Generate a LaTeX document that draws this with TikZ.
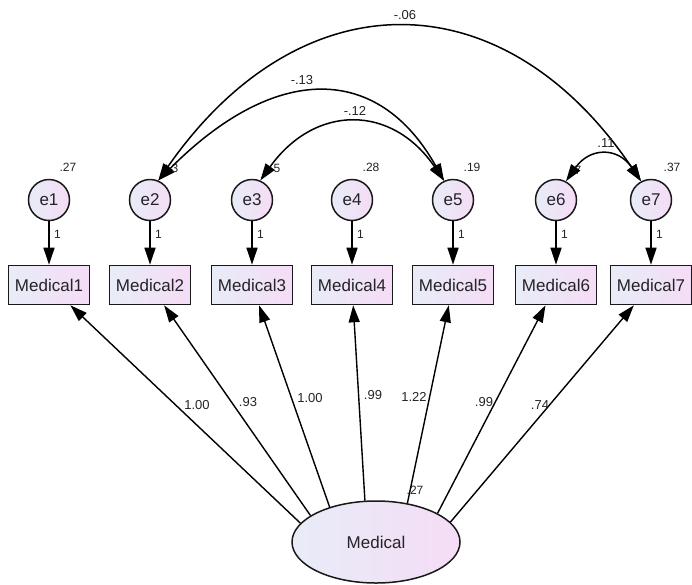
\documentclass[tikz,border=0pt]{standalone}
\usepackage{fontspec}
\setmainfont{Liberation Sans}
\usetikzlibrary{arrows.meta,shapes.geometric}
\definecolor{boxL}{RGB}{232,236,247}
\definecolor{boxR}{RGB}{245,220,246}
\definecolor{txt}{RGB}{35,35,40}
\begin{document}
\begin{tikzpicture}[x=1pt,y=-1pt,
  obs/.style={draw=black!90,line width=1.6pt,left color=boxL,right color=boxR,minimum width=81pt,minimum height=39pt,inner sep=0pt,font=\fontsize{17}{18}\selectfont,text=txt},
  err/.style={circle,draw=black!90,line width=1.5pt,left color=boxL,right color=boxR,minimum size=41pt,inner sep=0pt,font=\fontsize{17}{18}\selectfont,text=txt},
  latent/.style={ellipse,draw=black!90,line width=1.5pt,left color=boxL,right color=boxR,minimum width=168pt,minimum height=82pt,inner sep=0pt,font=\fontsize{17}{18}\selectfont,text=txt},
  arr/.style={line width=1.4pt,-{Triangle[length=17pt,width=11pt]}},
  dbl/.style={line width=1.5pt,{Triangle[length=17pt,width=11pt]}-{Triangle[length=17pt,width=11pt]}},
  lab/.style={font=\fontsize{13}{14}\selectfont,text=txt,inner sep=0pt},
  vlab/.style={font=\fontsize{12}{13}\selectfont,text=txt,inner sep=0pt},
]
\useasboundingbox (0,0) rectangle (692,584);
% error terms and indicators
\foreach \i/\x in {1/49,2/150,3/252,4/352,5/453,6/556,7/651}{
  \node[err] (e\i) at (\x,200) {e\i};
  \node[obs] (m\i) at (\x,285) {Medical\i};
  \draw[arr] (e\i) -- (m\i) node[vlab,pos=0.3,right=4.5pt] {1};
}
% latent
\node[latent] (lat) at (376,542) {Medical};
% variance labels
\node[vlab] (v1) at (68,167) {.27};
\node[vlab] (v4) at (371,167) {.28};
\node[vlab] (v5) at (472,167) {.19};
\node[vlab] (v7) at (672,167) {.37};
\node[vlab] (v2) at (175,168) {3};
\node[vlab] (v3) at (277,168) {5};
\node[vlab] (v6) at (578,170) {7};
\node[vlab] (vl) at (415,490) {.27};
% regression paths
\draw[arr] (lat.166) -- (m1);
\draw[arr] (lat.158) -- (m2);
\draw[arr] (lat.143) -- (m3);
\draw[arr] (lat.105) -- (m4);
\draw[arr] (lat.51) -- (m5);
\draw[arr] (lat.25) -- (m6);
\draw[arr] (lat.15) -- (m7);
\node[lab] (p1) at (197,405) {1.00};
\node[lab] (p2) at (248,402) {.93};
\node[lab] (p3) at (310,398) {1.00};
\node[lab] (p4) at (373,395) {.99};
\node[lab] (p5) at (414,397) {1.22};
\node[lab] (p6) at (484,402) {.99};
\node[lab] (p7) at (540,405) {.74};
% covariances
\draw[dbl] (e2.67) .. controls (300,-23) and (503,-23) .. (e7.118);
\draw[dbl] (e2.67) .. controls (275,63) and (378,63) .. (e5.115);
\draw[dbl] (e3.67) .. controls (315,104) and (392,104) .. (e5.115);
\draw[dbl] (e6.62) .. controls (590,147) and (618,147) .. (e7.118);
\node[lab] (c1) at (405,15) {-.06};
\node[lab] (c2) at (302,80) {-.13};
\node[lab] (c3) at (355,111) {-.12};
\node[lab] (c4) at (606,143) {.11};
\end{tikzpicture}
\end{document}
